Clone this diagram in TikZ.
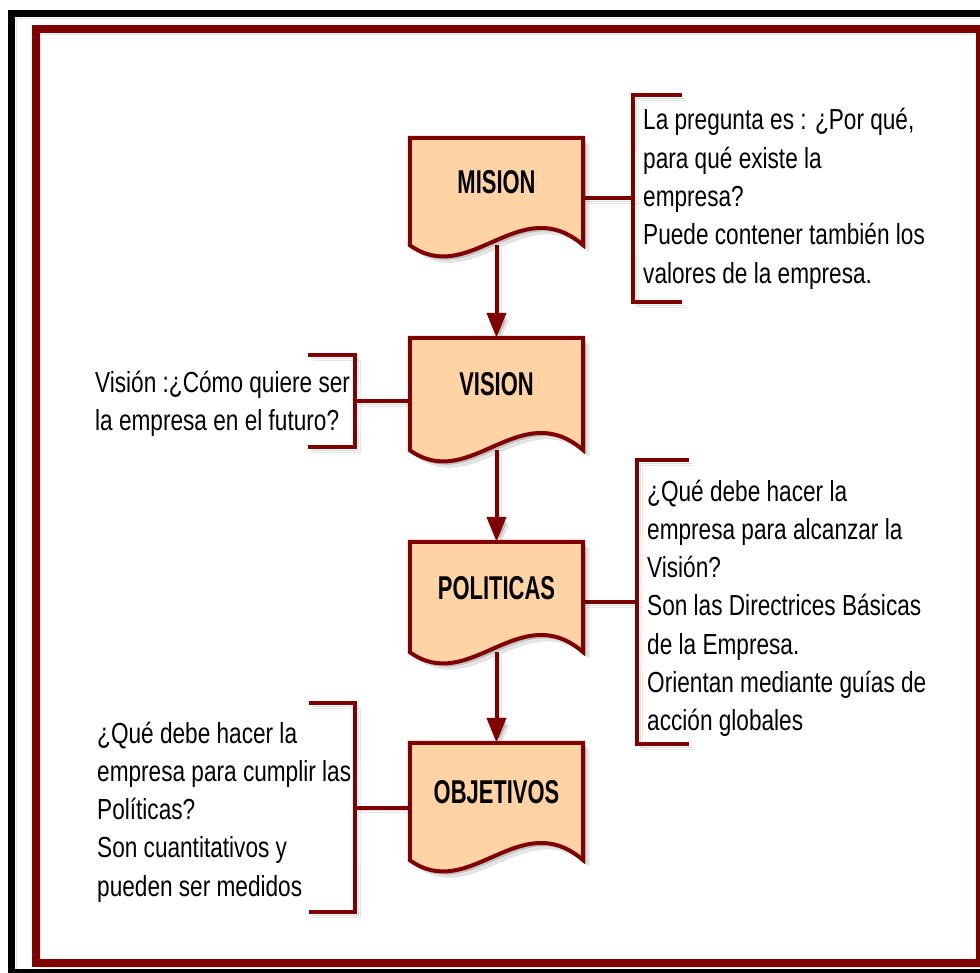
\documentclass[tikz,border=0pt]{standalone}
\usepackage{fontspec}
\setmainfont{Liberation Sans}
\newfontfamily\bodyfont{Liberation Sans}[FakeStretch=0.78]
\newfontfamily\boxfont{Liberation Sans}[FakeStretch=0.665]
\usetikzlibrary{arrows.meta,calc}

\definecolor{maroon}{RGB}{128,0,0}
\definecolor{peach}{RGB}{255,211,164}

\newcommand\para[1]{\begin{tabular}[t]{@{}l@{}}#1\end{tabular}}

\pgfdeclarelayer{paper}
\pgfdeclarelayer{frames}
\pgfdeclarelayer{links}
\pgfdeclarelayer{shapes}
\pgfsetlayers{paper,frames,links,shapes,main}

\tikzset{
  lineshadow/.style={
    preaction={draw=black, opacity=0.10, transform canvas={shift={(5pt,-5pt)}}},
    preaction={draw=black, opacity=0.14, transform canvas={shift={(3pt,-3pt)}}}},
  boxshadow/.style={
    preaction={fill=black, draw=black, opacity=0.10, transform canvas={shift={(6pt,-6pt)}}},
    preaction={fill=black, draw=black, opacity=0.14, transform canvas={shift={(3pt,-3pt)}}}},
  docbox/.style={rectangle, inner sep=0pt, minimum width=173pt,
    font=\boxfont\bfseries\fontsize{33}{36}\selectfont,
    text height=24pt, text depth=20pt},
  docoutline/.style={draw=maroon, fill=peach, line width=4pt, line join=miter, boxshadow},
  notetext/.style={inner sep=0pt, anchor=base west,
    font=\bodyfont\fontsize{29}{38.3}\selectfont},
  bracket/.style={draw=maroon, line width=4pt, line join=miter, lineshadow},
  link/.style={draw=maroon, line width=4pt, lineshadow},
  arrowlink/.style={draw=maroon, line width=4pt, lineshadow,
    -{Triangle[width=19pt,length=25pt]}},
}

\begin{document}
\begin{tikzpicture}[x=1pt,y=-1pt]
\useasboundingbox (0,0) rectangle (980,973);

% paper and frames
\begin{pgfonlayer}{paper}
  \fill[white] (0,0) rectangle (980,973);
\end{pgfonlayer}
\begin{pgfonlayer}{frames}
  \begin{scope}
    \clip (0,0) rectangle (980,973);
    \draw[black, line width=7pt, lineshadow] (11.5,13.5) rectangle (1000,972.5);
    \draw[maroon, line width=8pt, lineshadow] (35.5,29) rectangle (980,962.5);
  \end{scope}
\end{pgfonlayer}

% document boxes
\node[docbox, minimum height=107pt] (mision)    at (496.5,191.5) {MISION};
\node[docbox, minimum height=112pt] (vision)    at (496.5,394)   {VISION};
\node[docbox, minimum height=110pt] (politicas) at (496.5,597)   {POLITICAS};
\node[docbox, minimum height=117pt] (objetivos) at (496.5,801.5) {OBJETIVOS};

\begin{pgfonlayer}{shapes}
  \foreach \b in {mision,vision,politicas,objetivos}{
    \path[docoutline] (\b.north west) -- (\b.south west)
      .. controls ($(\b.south west)+(60,43)$) and ($(\b.south west)+(110,-55)$) .. (\b.south east)
      -- (\b.north east) -- cycle;
  }
\end{pgfonlayer}

% bracket corners and midpoints
\coordinate (b1top) at (682,95);   \coordinate (b1bot) at (682,302);  \coordinate (b1m) at (633,198.5);
\coordinate (b2top) at (308,355);  \coordinate (b2bot) at (308,447);  \coordinate (b2m) at (355,401);
\coordinate (b3top) at (689,460);  \coordinate (b3bot) at (689,744);  \coordinate (b3m) at (637,602);
\coordinate (b4top) at (309,703);  \coordinate (b4bot) at (309,912);  \coordinate (b4m) at (355,807.5);

\begin{pgfonlayer}{links}
  \draw[arrowlink] (mision.south) -- (vision.north);
  \draw[arrowlink] (vision.south) -- (politicas.north);
  \draw[arrowlink] (politicas.south) -- (objetivos.north);

  \draw[bracket] (b1top) -| (b1m) |- (b1bot);
  \draw[bracket] (b2top) -| (b2m) |- (b2bot);
  \draw[bracket] (b3top) -| (b3m) |- (b3bot);
  \draw[bracket] (b4top) -| (b4m) |- (b4bot);

  \draw[link] (mision.east |- b1m) -- (b1m);
  \draw[link] (b2m) -- (b2m -| vision.west);
  \draw[link] (politicas.east |- b3m) -- (b3m);
  \draw[link] (b4m) -- (b4m -| objetivos.west);
\end{pgfonlayer}

% notes
\node[notetext] (nmision) at (643,130) {\para{%
  La pregunta es : ¿Por qué,\\
  para qué existe la\\
  empresa?\\
  Puede contener también los\\
  valores de la empresa.}};
\node[notetext] (nvision) at (95,392) {\para{%
  Visión :¿Cómo quiere ser\\
  la empresa en el futuro?}};
\node[notetext] (npoliticas) at (647,501) {\para{%
  ¿Qué debe hacer la\\
  empresa para alcanzar la\\
  Visión?\\
  Son las Directrices Básicas\\
  de la Empresa.\\
  Orientan mediante guías de\\
  acción globales}};
\node[notetext] (nobjetivos) at (97,743) {\para{%
  ¿Qué debe hacer la\\
  empresa para cumplir las\\
  Políticas?\\
  Son cuantitativos y\\
  pueden ser medidos}};
\end{tikzpicture}
\end{document}
